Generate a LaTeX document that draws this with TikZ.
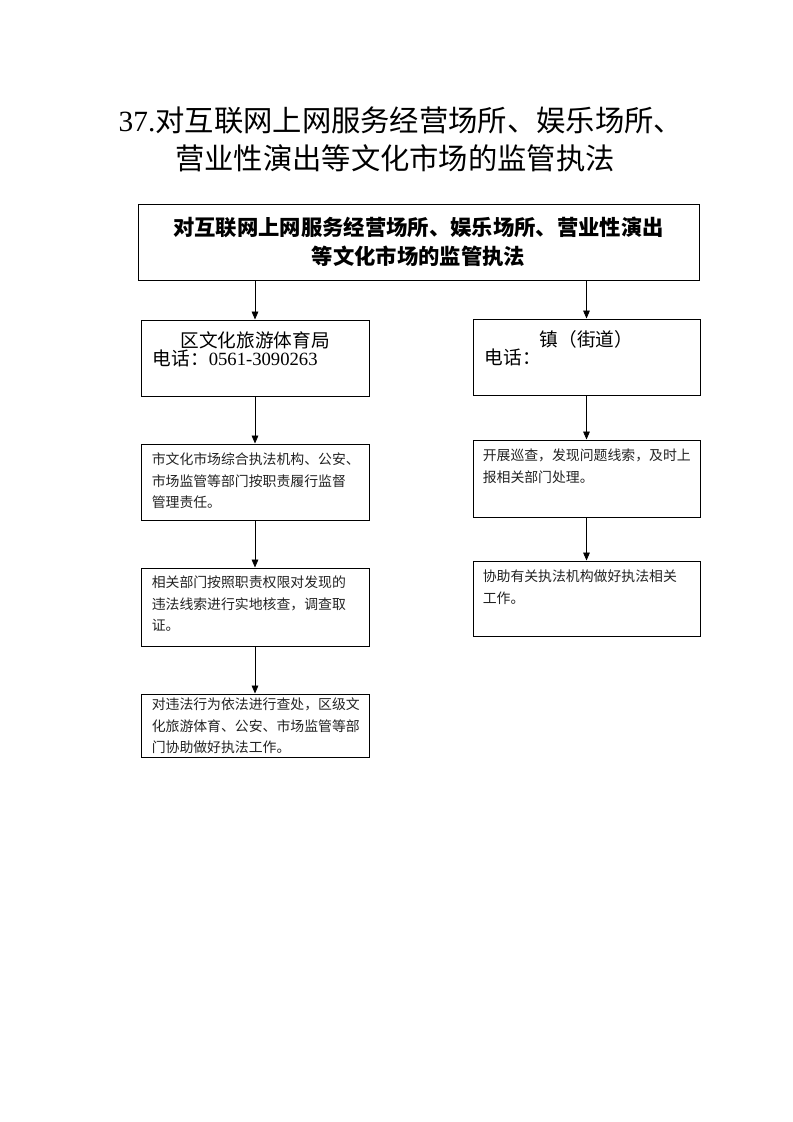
\documentclass[tikz,border=0pt]{standalone}
\usepackage{fontspec}
\setmainfont{Liberation Serif}
\newfontfamily\cjk{Noto Sans CJK SC}
\usetikzlibrary{
  arrows.meta,
  positioning,
  calc
}
\definecolor{lineblack}{HTML}{000000}
\definecolor{textgray}{HTML}{222222}

\begin{document}
\begin{tikzpicture}[
      x=0.75pt, y=-0.75pt,
      box/.style={
        rectangle, draw=lineblack, line width=0.75pt,
        inner sep=0pt
      },
      bigbox/.style={
        box, minimum width=420.75pt, minimum height=57pt,
        font=\fontsize{16pt}{21.75pt}\selectfont\cjk\bfseries, align=center
      },
      unitbox/.style={
        box, minimum width=171pt, minimum height=57pt
      },
      stepbox/.style={
        box, minimum width=171pt
      },
      heading/.style={font=\fontsize{22pt}{28.5pt}\selectfont, inner sep=0pt},
      unit/.style={font=\fontsize{14pt}{17pt}\selectfont, inner sep=0pt},
      note/.style={
        font=\fontsize{10.4pt}{16.2pt}\selectfont\cjk\color{textgray},
        align=left, inner sep=0pt, anchor=north west
      },
      arrow/.style={-{Triangle[length=6pt,width=5pt]}, line width=0.6pt, lineblack}
    ]
      \useasboundingbox (0,0) rectangle (793,1122);

      % Title
      \node[heading] (title) at (401,120) {37.{\cjk 对互联网上网服务经营场所、娱乐场所、}};
      \node[heading] (subtitle) at (395,158) {\cjk 营业性演出等文化市场的监管执法};

      % Top box
      \node[bigbox] (top) at (418.5,242)
        {对互联网上网服务经营场所、娱乐场所、营业性演出\\等文化市场的监管执法};

      % Left column
      \node[unitbox] (district) at (255,358) {};
      \node[unit, below=9pt of district.north] (districtname) {\cjk 区文化旅游体育局};
      \node[unit, anchor=west] (districttel) at ($(district.north west)+(12,39)$)
        {{\cjk 电话：}0561-3090263};

      \node[stepbox, minimum height=57pt] (cityteam) at (255,482) {};
      \node[note] (citytext) at ($(cityteam.north west)+(11,9)$)
        {市文化市场综合执法机构、公安、\\市场监管等部门按职责履行监督\\管理责任。};

      \node[stepbox, minimum height=58.5pt] (verify) at (255,607) {};
      \node[note] (verifytext) at ($(verify.north west)+(11,8)$)
        {相关部门按照职责权限对发现的\\违法线索进行实地核查，调查取\\证。};

      \node[stepbox, minimum height=47.25pt] (punish) at (255,725.5) {};
      \node[note] (punishtext) at ($(punish.north west)+(11,4)$)
        {对违法行为依法进行查处，区级文\\化旅游体育、公安、市场监管等部\\门协助做好执法工作。};

      % Right column
      \node[unitbox, minimum width=170.25pt] (town) at (586.5,357) {};
      \node[unit, below=9pt of town.north] (townname) {\cjk 镇（街道）};
      \node[unit, anchor=west] (towntel) at ($(town.north west)+(12,39)$) {\cjk 电话：};

      \node[stepbox, minimum width=170.25pt, minimum height=57.75pt] (patrol) at (586.5,478.5) {};
      \node[note] (patroltext) at ($(patrol.north west)+(10,9)$)
        {开展巡查，发现问题线索，及时上\\报相关部门处理。};

      \node[stepbox, minimum width=170.25pt, minimum height=56.25pt] (assist) at (586.5,598.5) {};
      \node[note] (assisttext) at ($(assist.north west)+(10,9)$)
        {协助有关执法机构做好执法相关\\工作。};

      % Arrows
      \draw[arrow] (top.south -| district.north) -- (district.north);
      \draw[arrow] (top.south -| town.north) -- (town.north);
      \draw[arrow] (district) -- (cityteam);
      \draw[arrow] (cityteam) -- (verify);
      \draw[arrow] (verify) -- (punish);
      \draw[arrow] (town) -- (patrol);
      \draw[arrow] (patrol) -- (assist);
    \end{tikzpicture}
\end{document}
